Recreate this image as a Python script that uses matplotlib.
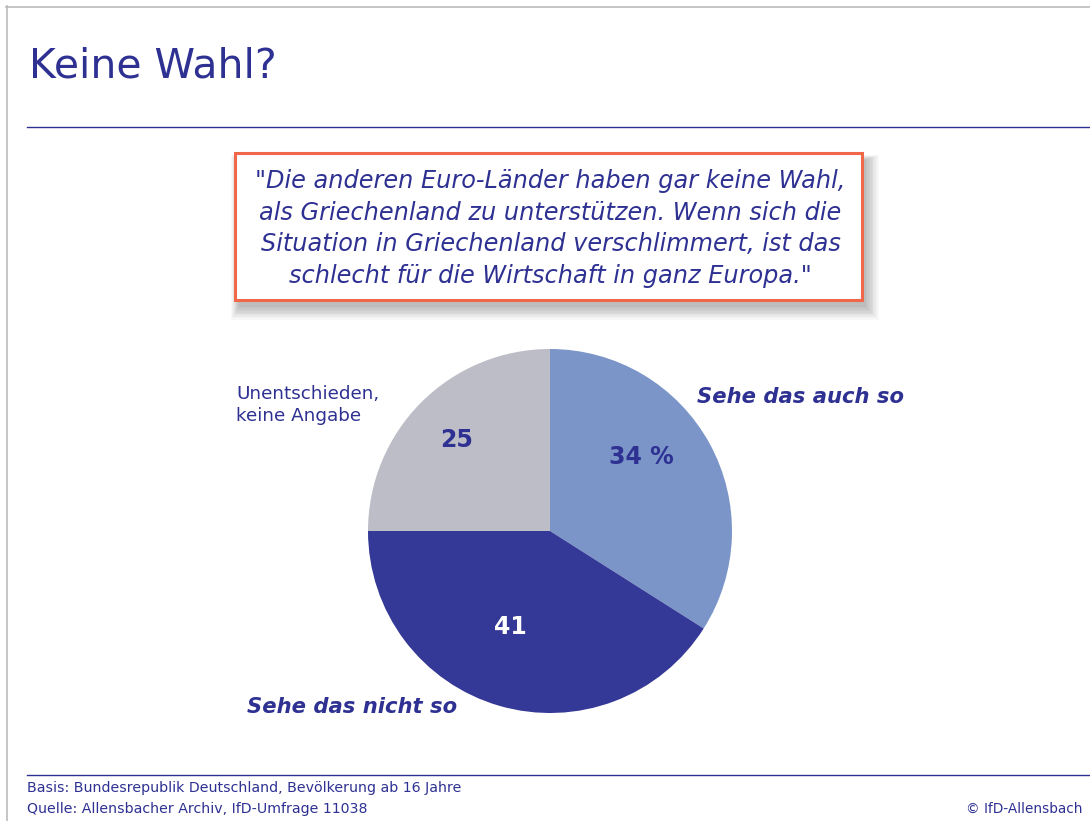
import matplotlib.pyplot as plt
from matplotlib.patches import Rectangle

# Pie data: "Sehe das auch so", "Sehe das nicht so", "Unentschieden"
categories = ['Sehe das auch so', 'Sehe das nicht so', 'Unentschieden,\nkeine Angabe']
values = [34, 41, 25]
value_labels = ['34 %', '41', '25']
colors = ['#7b95c9', '#343896', '#bcbdc6']

title = 'Keine Wahl?'
quote = ('"Die anderen Euro-Länder haben gar keine Wahl,\n'
         'als Griechenland zu unterstützen. Wenn sich die\n'
         'Situation in Griechenland verschlimmert, ist das\n'
         'schlecht für die Wirtschaft in ganz Europa."')
footer_basis = 'Basis: Bundesrepublik Deutschland, Bevölkerung ab 16 Jahre'
footer_source = 'Quelle: Allensbacher Archiv, IfD-Umfrage 11038'
footer_copy = '© IfD-Allensbach'

W, H = 1090, 821
navy = '#2e3192'
plt.rcParams['font.family'] = ['DejaVu Sans']

fig = plt.figure(figsize=(W / 100, H / 100), dpi=100)
ax = fig.add_axes([0, 0, 1, 1])


def Y(y):
    # pixel row (from top) -> data y
    return H - y


# pie
cx, cy, r = 550, Y(531), 182
wedges, _ = ax.pie(values, colors=colors, startangle=90, counterclock=False,
                   center=(cx, cy), radius=r, wedgeprops=dict(linewidth=0))
ax.set_xlim(0, W)
ax.set_ylim(0, H)
ax.set_aspect('auto')
ax.axis('off')

# frame lines
ax.plot([6.5, 6.5], [Y(6), 0], color='#bbbbbb', lw=1.2)
ax.plot([6, W], [Y(6.5), Y(6.5)], color='#bbbbbb', lw=1.2)
ax.plot([27, W], [Y(127), Y(127)], color=navy, lw=1.0)
ax.plot([27, W], [Y(775), Y(775)], color=navy, lw=1.0)

ax.text(29, Y(66), title, fontsize=29.5, color=navy, va='center', ha='left')

# quote box with soft shadow (down/right)
bx, by, bw, bh = 235, 153, 627, 147
for i in range(10):
    g = i * 1.4
    ax.add_patch(Rectangle((bx + 4 - g * 0.6, Y(by + bh + 7 + g)), bw + 2 * g * 0.8,
                           bh + g * 1.4, facecolor='#000000', alpha=0.028, lw=0,
                           zorder=1))
ax.add_patch(Rectangle((bx, Y(by + bh)), bw, bh, facecolor='white',
                       edgecolor='#f0674a', lw=2.2, zorder=2))
ax.text(bx + bw / 2 + 2, Y(by + bh / 2 + 2), quote, fontsize=17.3, style='italic',
        color=navy, ha='center', va='center', linespacing=1.42, zorder=3)

# labels
ax.text(697, Y(397), categories[0], fontsize=15.2, style='italic', weight='bold',
        color=navy, ha='left', va='center')
ax.text(247, Y(707), categories[1], fontsize=15.2, style='italic', weight='bold',
        color=navy, ha='left', va='center')
ax.text(236, Y(405), categories[2], fontsize=13.2, color=navy, ha='left',
        va='center', linespacing=1.3)

ax.text(641, Y(457), value_labels[0], fontsize=17, weight='bold', color=navy,
        ha='center', va='center')
ax.text(510, Y(627), value_labels[1], fontsize=17, weight='bold', color='white',
        ha='center', va='center')
ax.text(457, Y(440), value_labels[2], fontsize=17, weight='bold', color=navy,
        ha='center', va='center')

ax.text(27, Y(788), footer_basis, fontsize=10.2, color=navy, ha='left', va='center')
ax.text(27, Y(809), footer_source, fontsize=10.2, color=navy, ha='left', va='center')
ax.text(1082, Y(809), footer_copy, fontsize=9.8, color=navy, ha='right', va='center')

fig.savefig('out.png', dpi=100)
